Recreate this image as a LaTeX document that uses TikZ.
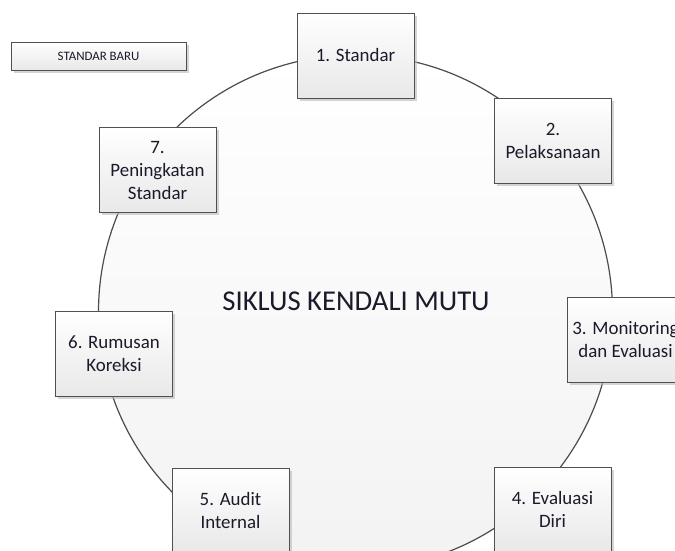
\documentclass[tikz,border=0pt]{standalone}
\usepackage{fontspec}
\setmainfont{Carlito}
\usetikzlibrary{shadows}
\definecolor{edgegray}{HTML}{505050}
\definecolor{txt}{HTML}{1A1A2A}
\tikzset{
  stagebox/.style={draw=edgegray, line width=1pt, rectangle, inner sep=0pt,
    minimum width=117pt, minimum height=85pt, align=center,
    top color=white, bottom color=gray!18, text=txt,
    font=\fontsize{18.9}{23}\selectfont,
    drop shadow={shadow xshift=2.5pt, shadow yshift=-2.5pt, fill=gray!55, opacity=0.6}},
  smallbox/.style={stagebox, minimum width=175pt, minimum height=28pt,
    font=\fontsize{12.9}{15}\selectfont},
  cyclering/.style={circle, draw=gray!60!black, line width=1.2pt, inner sep=0pt,
    minimum size=514pt, top color=white, bottom color=gray!10},
}
\begin{document}
\begin{tikzpicture}[x=1pt,y=-1pt]
\useasboundingbox (0,0) rectangle (675,550);
\clip (0,0) rectangle (675,550);
\fill[white] (0,0) rectangle (675,550);
\node[cyclering] (cyc) at (355.5,312) {};
\node[text=txt, font=\fontsize{28.7}{34}\selectfont] (title) at (356,301) {SIKLUS KENDALI MUTU};
\node[smallbox] (baru) at (98.5,56) {STANDAR BARU};
\node[stagebox] (s1) at (355.5,55.5) {1. Standar};
\node[stagebox] (s2) at (553,141) {2.\\Pelaksanaan};
\node[stagebox] (s3) at (625.5,339.5) {3. Monitoring\\dan Evaluasi};
\node[stagebox] (s4) at (552.5,509.5) {4. Evaluasi\\Diri};
\node[stagebox] (s5) at (230.5,510.5) {5. Audit\\Internal};
\node[stagebox] (s6) at (114,354) {6. Rumusan\\Koreksi};
\node[stagebox] (s7) at (157.5,170) {7.\\Peningkatan\\Standar};
\end{tikzpicture}
\end{document}
